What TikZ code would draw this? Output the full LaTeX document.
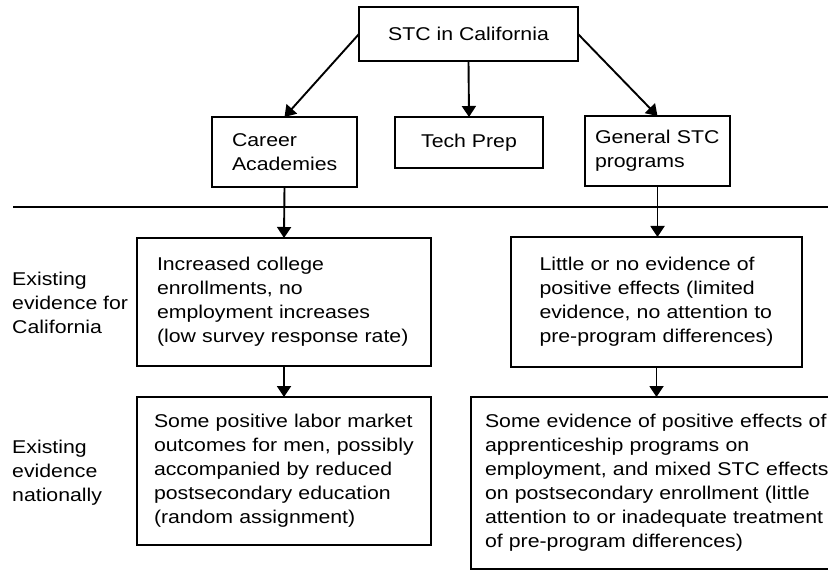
\documentclass[tikz,border=0pt]{standalone}
\usepackage{fontspec}
\setmainfont[FakeStretch=1.15]{Liberation Sans}
\usetikzlibrary{arrows.meta,calc}
\hyphenpenalty=10000
\exhyphenpenalty=10000
\begin{document}
\begin{tikzpicture}[x=1pt,y=-1pt,
  font=\fontsize{18.5}{24}\selectfont,
  box/.style={draw=black,line width=1.7pt,fill=white,align=left,inner ysep=0pt,outer sep=0pt},
  lbl/.style={align=left,inner sep=0pt,anchor=west,text=black},
  arr/.style={line width=1.9pt,-{Triangle[length=11pt,width=14pt]}},
  rule/.style={line width=1.4pt}]
\useasboundingbox (0,0) rectangle (828,572);
\clip (0,0) rectangle (828,572);
\fill[white] (0,0) rectangle (828,572);
% boxes
\node[box,minimum width=219pt,minimum height=54pt,align=center] (top) at (468.5,34) {STC in California};
\node[box,minimum width=145pt,minimum height=70pt,inner xsep=20pt,text width=105pt] (career) at (284.5,152) {Career\\Academies};
\node[box,minimum width=148pt,minimum height=51pt,align=center] (tech) at (469,142.5) {Tech Prep};
\node[box,minimum width=145pt,minimum height=70pt,inner xsep=10pt,text width=125pt] (general) at (657.5,151) {General STC\\programs};
\node[box,minimum width=294pt,minimum height=128pt,inner xsep=20pt,text width=254pt] (a1) at (284,302) {Increased college\\enrollments, no\\employment increases\\(low survey response rate)};
\node[box,minimum width=294pt,minimum height=148pt,inner xsep=17pt,text width=260pt] (a2) at (284,471) {Some positive labor market\\outcomes for men, possibly\\accompanied by reduced\\postsecondary education\\(random assignment)};
\node[box,minimum width=291pt,minimum height=130pt,inner xsep=25.5pt,text width=240pt] (b1) at (656.5,302) {\hspace*{3pt}Little or no evidence of\\\hspace*{3pt}positive effects (limited\\\hspace*{3pt}evidence, no attention to\\\hspace*{3pt}pre-program differences)};
\node[box,minimum width=374pt,minimum height=172pt,inner xsep=14pt,text width=346pt] (b2) at (658,483) {Some evidence of positive effects of\\apprenticeship programs on\\employment, and mixed STC effects\\on postsecondary enrollment (little\\attention to or inadequate treatment\\of pre-program differences)};
% side labels
\node[lbl] (l1) at (12,303) {Existing\\evidence for\\California};
\node[lbl] (l2) at (12,473) {Existing\\evidence\\nationally};
% rule
\coordinate (r1) at (13,207);
\coordinate (r2) at (828,207);
\draw[rule] (r1) -- (r2);
% arrows
\draw[arr] (top.west) -- (career.north);
\draw[arr] (top.south) -- (tech.north);
\draw[arr] (top.east) -- (general.north);
\draw[arr] (career.south) -- (a1.north);
\draw[arr] (general.south) -- (general.south |- b1.north);
\draw[arr] (a1.south) -- (a2.north);
\draw[arr] (b1.south) -- (b1.south |- b2.north);
\end{tikzpicture}
\end{document}
